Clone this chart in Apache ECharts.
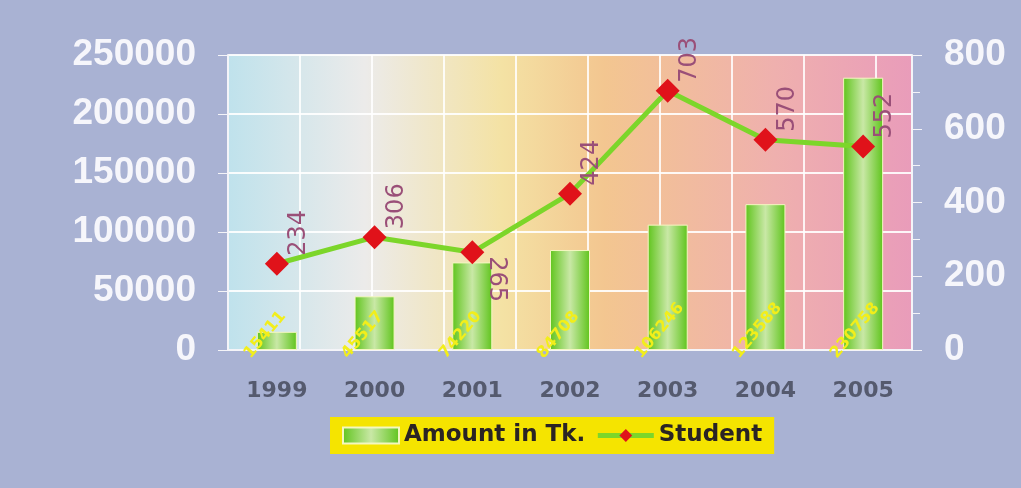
<!DOCTYPE html>
<html>
<head>
<meta charset="utf-8">
<script src="https://cdn.jsdelivr.net/npm/echarts@6/dist/echarts.min.js"></script>
<style>
  html, body { margin: 0; padding: 0; background: #a9b2d3; }
  #chart { width: 1021px; height: 488px; }
</style>
</head>
<body>
<div id="chart"></div>
<script>
const years = ["1999", "2000", "2001", "2002", "2003", "2004", "2005"];
const amountTk = [15411, 45517, 74220, 84708, 106246, 123588, 230758];
const students = [234, 306, 265, 424, 703, 570, 552];
const leftTicks = [0, 250000, 50000];
const rightTicks = [0, 800, 200];

const chart = echarts.init(document.getElementById("chart"), null, { renderer: "canvas" });

const plotFill = new echarts.graphic.LinearGradient(0, 0, 1, 0, [
  { offset: 0, color: "#bfe2ec" },
  { offset: 0.2, color: "#ecebea" },
  { offset: 0.4, color: "#f4e2a4" },
  { offset: 0.55, color: "#f3c690" },
  { offset: 0.8, color: "#efb0ae" },
  { offset: 1, color: "#e99cba" }
]);
const barFill = new echarts.graphic.LinearGradient(0, 0, 1, 0, [
  { offset: 0, color: "#5fc41c" },
  { offset: 0.5, color: "#c9e8a6" },
  { offset: 1, color: "#5fc41c" }
]);

// 2001 label hangs below the point, reading downwards
const studentData = students.map((v, i) => {
  if (i === 2) {
    return { value: v, label: { position: "right", rotate: -90, align: "left", verticalAlign: "bottom", offset: [4, 0] } };
  }
  return v;
});

chart.setOption({
  backgroundColor: "#a9b2d3",
  animation: false,
  grid: {
    left: 228, right: 109, top: 55, bottom: 138,
    show: true, backgroundColor: plotFill, borderWidth: 0
  },
  legend: {
    top: 417, left: 330,
    backgroundColor: "#f5e400",
    padding: [7, 12, 7, 12],
    itemGap: 10,
    textStyle: { color: "#2a2424", fontSize: 23, fontWeight: "bold", fontFamily: "DejaVu Sans" },
    data: [
      { name: "Amount in Tk.", icon: "rect", itemStyle: { color: barFill } },
      { name: "Student", lineStyle: { width: 5, color: "#7cd62a" } }
    ],
    itemWidth: 56, itemHeight: 16
  },
  xAxis: [
    {
      type: "category", data: years,
      axisLine: { show: true, lineStyle: { color: "#f4f4f8", width: 2 } },
      axisTick: { show: false },
      axisLabel: { margin: 30, color: "#555a6e", fontSize: 22, fontWeight: "bold", fontFamily: "DejaVu Sans" },
      splitLine: { show: false }
    },
    {
      type: "value", min: 0, max: 9.5, interval: 1, show: true,
      axisLine: { show: false }, axisTick: { show: false }, axisLabel: { show: false },
      splitLine: { show: true, lineStyle: { color: "rgba(255,255,255,0.85)", width: 2 } }
    }
  ],
  yAxis: [
    {
      type: "value", min: leftTicks[0], max: leftTicks[1], interval: leftTicks[2],
      axisLine: { show: true, lineStyle: { color: "#f4f4f8", width: 2 } },
      axisTick: { show: true, inside: false, length: 10, lineStyle: { color: "#f4f4f8" } },
      axisLabel: {
        margin: 32, color: "#f6f6fb", fontSize: 37, fontWeight: "bold", fontFamily: "Liberation Sans",
        formatter: v => String(v)
      },
      splitLine: { show: true, lineStyle: { color: "rgba(255,255,255,0.9)", width: 2 } }
    },
    {
      type: "value", min: rightTicks[0], max: rightTicks[1], interval: rightTicks[2],
      axisLine: { show: true, lineStyle: { color: "#f4f4f8", width: 2 } },
      axisTick: { show: true, length: 10, lineStyle: { color: "#f4f4f8" } },
      minorTick: { show: true, splitNumber: 2, length: 8, lineStyle: { color: "#f4f4f8" } },
      axisLabel: { margin: 32, color: "#f6f6fb", fontSize: 37, fontWeight: "bold", fontFamily: "Liberation Sans" },
      splitLine: { show: false }
    }
  ],
  series: [
    {
      name: "Amount in Tk.", type: "bar", data: amountTk,
      xAxisIndex: 0, yAxisIndex: 0, barWidth: 40,
      itemStyle: { color: barFill, borderColor: "#f4f7c0", borderWidth: 1 },
      label: {
        show: true, position: "insideBottomLeft", rotate: 50, align: "left", verticalAlign: "middle",
        offset: [-18, -4],
        color: "#f2ee1a", fontSize: 16, fontWeight: "bold", fontFamily: "DejaVu Sans"
      },
      z: 2
    },
    {
      name: "Student", type: "line", data: studentData,
      xAxisIndex: 0, yAxisIndex: 1,
      symbol: "diamond", symbolSize: 24,
      lineStyle: { color: "#7cd62a", width: 5 },
      itemStyle: { color: "#e0121a" },
      label: {
        show: true, position: "right", rotate: 90, align: "left", verticalAlign: "top",
        offset: [8, -2], distance: 0,
        color: "#9a4f78", fontSize: 24, fontFamily: "DejaVu Sans"
      },
      z: 3
    }
  ]
});
</script>
</body>
</html>
